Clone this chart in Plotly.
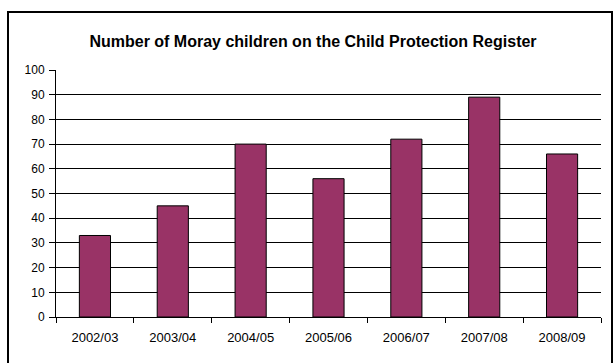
import plotly.graph_objects as go

years = ["2002/03", "2003/04", "2004/05", "2005/06", "2006/07", "2007/08", "2008/09"]
children = [33, 45, 70, 56, 72, 89, 66]

fig = go.Figure(
    go.Bar(
        x=years,
        y=children,
        marker=dict(color="#993366", line=dict(color="black", width=1)),
    )
)

# plot-area geometry in pixels, used to place the outer chart border
L, R, T, B = 56, 14, 70, 46
W, H = 615, 363
pw, ph = W - L - R, H - T - B

def px_x(x):
    return (x - L) / pw

def px_y(y):
    return (H - B - y) / ph

fig.add_shape(
    type="rect", xref="paper", yref="paper",
    x0=px_x(8), x1=px_x(612), y0=px_y(372), y1=px_y(12),
    line=dict(color="black", width=2), fillcolor="rgba(0,0,0,0)",
)

fig.update_layout(
    width=W, height=H,
    margin=dict(l=L, r=R, t=T, b=B),
    paper_bgcolor="white", plot_bgcolor="white",
    font=dict(family="Liberation Sans, Arial, sans-serif", size=12, color="black"),
    title=dict(
        text="<b>Number of Moray children on the Child Protection Register</b>",
        x=px_x(313), xref="paper", xanchor="center", y=1 - 41 / H, yanchor="middle",
        font=dict(size=16, color="black"),
    ),
    bargap=0.6,
    showlegend=False,
)
fig.update_xaxes(
    type="category", showline=True, linecolor="black", linewidth=1,
    ticks="outside", tickson="boundaries", ticklen=5, tickcolor="black",
    ticklabelstandoff=8, tickfont=dict(size=13),
    showgrid=False,
)
fig.update_yaxes(
    range=[0, 100], dtick=10, showline=True, linecolor="black", linewidth=1,
    ticks="outside", ticklen=6, tickcolor="black", tickfont=dict(size=12),
    ticklabelstandoff=2,
    showgrid=True, gridcolor="black", gridwidth=1, zeroline=False,
)

fig.write_html("out.html")
